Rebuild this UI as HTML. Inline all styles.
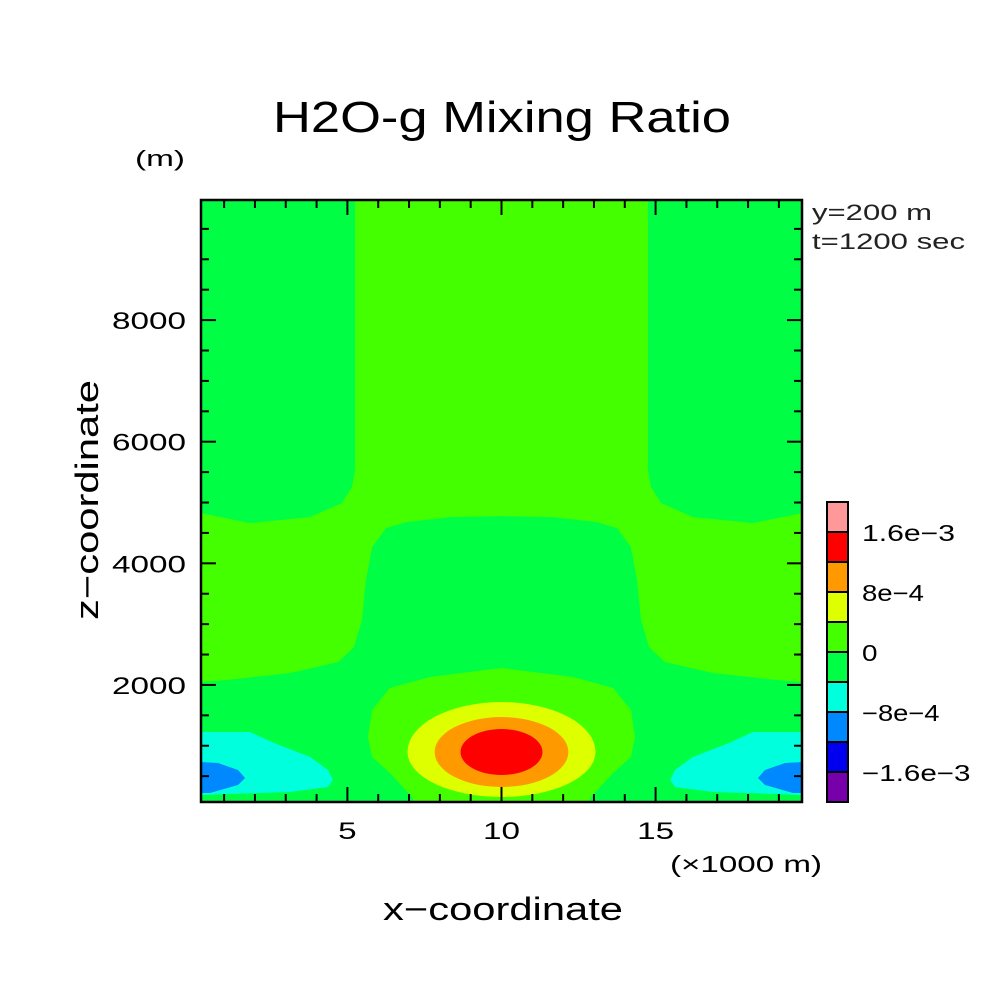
<!DOCTYPE html>
<html><head><meta charset="utf-8"><style>
html,body{margin:0;padding:0;background:#fff;}
svg{display:block;font-family:"Liberation Sans",sans-serif;}
</style></head><body>
<svg id="chart" width="1004" height="1004" viewBox="0 0 1004 1004">
<rect width="1004" height="1004" fill="#fff"/>
<text x="502" y="132" font-size="44" text-anchor="middle" textLength="458" lengthAdjust="spacingAndGlyphs">H2O-g Mixing Ratio</text>
<text x="135" y="166" font-size="22" textLength="50" lengthAdjust="spacingAndGlyphs">(m)</text>
<text x="812" y="220" font-size="22" fill="#222" textLength="120" lengthAdjust="spacingAndGlyphs">y=200 m</text>
<text x="812" y="249" font-size="22" fill="#222" textLength="153" lengthAdjust="spacingAndGlyphs">t=1200 sec</text>
<text x="670" y="872" font-size="23" textLength="152" lengthAdjust="spacingAndGlyphs">(×1000 m)</text>
<text x="383" y="920" font-size="32" textLength="240" lengthAdjust="spacingAndGlyphs">x−coordinate</text>
<text transform="translate(98,620) rotate(-90)" font-size="32" textLength="240" lengthAdjust="spacingAndGlyphs">z−coordinate</text>
<g id="plot"></g>
<g id="axes"></g>
<g id="cbar"></g>
</svg>
<script>
// ---- data ----
const xDomain = [0.25, 19.75];     // km
const zDomain = [75, 9975];        // m
const xTicks = [5, 10, 15];
const zTicks = [2000, 4000, 6000, 8000];
const levelLabels = ["1.6e-3", "8e-4", "0", "-8e-4", "-1.6e-3"];
const levelValues = [1.6e-3, 8e-4, 0, -8e-4, -1.6e-3];
const bandColors = ["#ff9999","#ff0000","#ff9900","#ddff00","#44ff00","#00ff44","#00ffdd","#0088ff","#0000ee","#7700aa"];
// left-half contour boundaries [x km, z m]; right half mirrored about x=10
const limeBandLeft = [[5.25,9975],[5.25,5533],[5.15,5254],[4.82,4991],[3.79,4760],[1.84,4662],[0.25,4826],[0.25,2048],[1.06,2081],[3.14,2196],[4.70,2377],[5.21,2623],[5.47,3067],[5.60,3725],[5.80,4267],[6.25,4580],[6.90,4678],[8.33,4760],[10,4777]];
const limeArchLeft = [[10,2278],[7.68,2130],[6.38,1949],[5.80,1587],[5.67,1144],[5.80,815],[6.38,552],[7.10,157],[7.16,75],[10,75]];
const cyanLeft = [[0.25,1226],[1.84,1226],[2.62,1045],[3.79,815],[4.37,601],[4.53,437],[4.37,322],[3.14,239],[0.25,190]];
const blueLeft = [[0.25,733],[0.80,716],[1.45,601],[1.68,470],[1.45,354],[0.54,223],[0.25,223]];
// bullseye contours: [color index, center x, center z, rx km, ry-top m, ry-bottom m]
const ellipses = [[3,10,897,3.05,822,740],[2,10,897,2.17,575,575],[1,10,897,1.33,378,378]];

// ---- scales ----
const L=201,R=802,T=200,B=802;
const sx = x => L + (x-xDomain[0])/(xDomain[1]-xDomain[0])*(R-L);
const sz = z => B - (z-zDomain[0])/(zDomain[1]-zDomain[0])*(B-T);
const NS="http://www.w3.org/2000/svg";
function mk(tag,parent){const e=document.createElementNS(NS,tag);parent.appendChild(e);return e;}
const plot=document.getElementById('plot'), axes=document.getElementById('axes'), cbar=document.getElementById('cbar');

const bg=mk('rect',plot);
bg.setAttribute('x',L);bg.setAttribute('y',T);bg.setAttribute('width',R-L);bg.setAttribute('height',B-T);bg.setAttribute('fill',bandColors[5]);



function symPath(left){
  const pts=left.map(p=>[sx(p[0]),sz(p[1])]);
  const right=left.slice().reverse().map(p=>[sx(20-p[0]),sz(p[1])]);
  return 'M'+pts.concat(right).map(p=>p[0].toFixed(1)+','+p[1].toFixed(1)).join('L')+'Z';
}
function side(left,mirror){
  const pts=left.map(p=>[sx(mirror?20-p[0]:p[0]),sz(p[1])]);
  return 'M'+pts.map(p=>p[0].toFixed(1)+','+p[1].toFixed(1)).join('L')+'Z';
}
let p;
p=mk('path',plot);p.setAttribute('d',symPath(limeBandLeft));p.setAttribute('fill',bandColors[4]);


p=mk('path',plot);p.setAttribute('d',symPath(limeArchLeft));p.setAttribute('fill',bandColors[4]);


[false,true].forEach(m=>{
  let c=mk('path',plot);c.setAttribute('d',side(cyanLeft,m));c.setAttribute('fill',bandColors[6]);
  
  
  let b=mk('path',plot);b.setAttribute('d',side(blueLeft,m));b.setAttribute('fill',bandColors[7]);
  
  
});
ellipses.forEach(e=>{
  const cx=sx(e[1]), cy=sz(e[2]), rx=sx(e[1]+e[3])-cx, rt=cy-sz(e[2]+e[4]), rb=sz(e[2]-e[5])-cy;
  const d=`M${cx-rx},${cy} A${rx},${rt} 0 0 1 ${cx+rx},${cy} A${rx},${rb} 0 0 1 ${cx-rx},${cy}Z`;
  const el=mk('path',plot);el.setAttribute('d',d);el.setAttribute('fill',bandColors[e[0]]);
  
  
});

// ---- axes ----
const frame=mk('rect',axes);
frame.setAttribute('x',L);frame.setAttribute('y',T);frame.setAttribute('width',R-L);frame.setAttribute('height',B-T);
frame.setAttribute('fill','none');frame.setAttribute('stroke','#000');frame.setAttribute('stroke-width','2.5');


function line(x1,y1,x2,y2,w){const l=mk('line',axes);l.setAttribute('x1',x1);l.setAttribute('y1',y1);l.setAttribute('x2',x2);l.setAttribute('y2',y2);l.setAttribute('stroke','#000');l.setAttribute('stroke-width',w);
  
  }
for(let x=1;x<=19;x++){
  const X=sx(x), major=x%5===0, len=major?15:8;
  line(X,B,X,B-len,2);line(X,T,X,T+len,2);
}
for(let z=500;z<=9500;z+=500){
  const Y=sz(z), major=z%2000===0, len=major?15:8;
  line(L,Y,L+len,Y,2);line(R,Y,R-len,Y,2);
}
xTicks.forEach(v=>{const t=mk('text',axes);const s=String(v);t.setAttribute('x',sx(v));t.setAttribute('y',839);t.setAttribute('font-size','24');t.setAttribute('text-anchor','middle');
  t.setAttribute('textLength',s.length*18.5);t.setAttribute('lengthAdjust','spacingAndGlyphs');t.textContent=s;
  
  });
zTicks.forEach(v=>{const t=mk('text',axes);const s=String(v);const w=s.length*18.5;t.setAttribute('x',186-w);t.setAttribute('y',sz(v)+9);t.setAttribute('font-size','24');
  t.setAttribute('textLength',w);t.setAttribute('lengthAdjust','spacingAndGlyphs');t.textContent=s;
  
  });

// ---- colorbar ----
const CX=827, CW=21, CT=502, CH=30;
bandColors.forEach((c,i)=>{
  const r=mk('rect',cbar);r.setAttribute('x',CX);r.setAttribute('y',CT+i*CH);r.setAttribute('width',CW);r.setAttribute('height',CH);
  r.setAttribute('fill',c);r.setAttribute('stroke','#000');r.setAttribute('stroke-width','2');
  
  
});
levelLabels.forEach((s,i)=>{
  const t=mk('text',cbar);t.setAttribute('x',862);t.setAttribute('y',CT+(1+2*i)*CH+9);t.setAttribute('font-size','23');
  t.setAttribute('textLength',s.length*15.5);t.setAttribute('lengthAdjust','spacingAndGlyphs');
  t.textContent=s.replace(/-/g,'−');
  
  
});
</script>
</body></html>
